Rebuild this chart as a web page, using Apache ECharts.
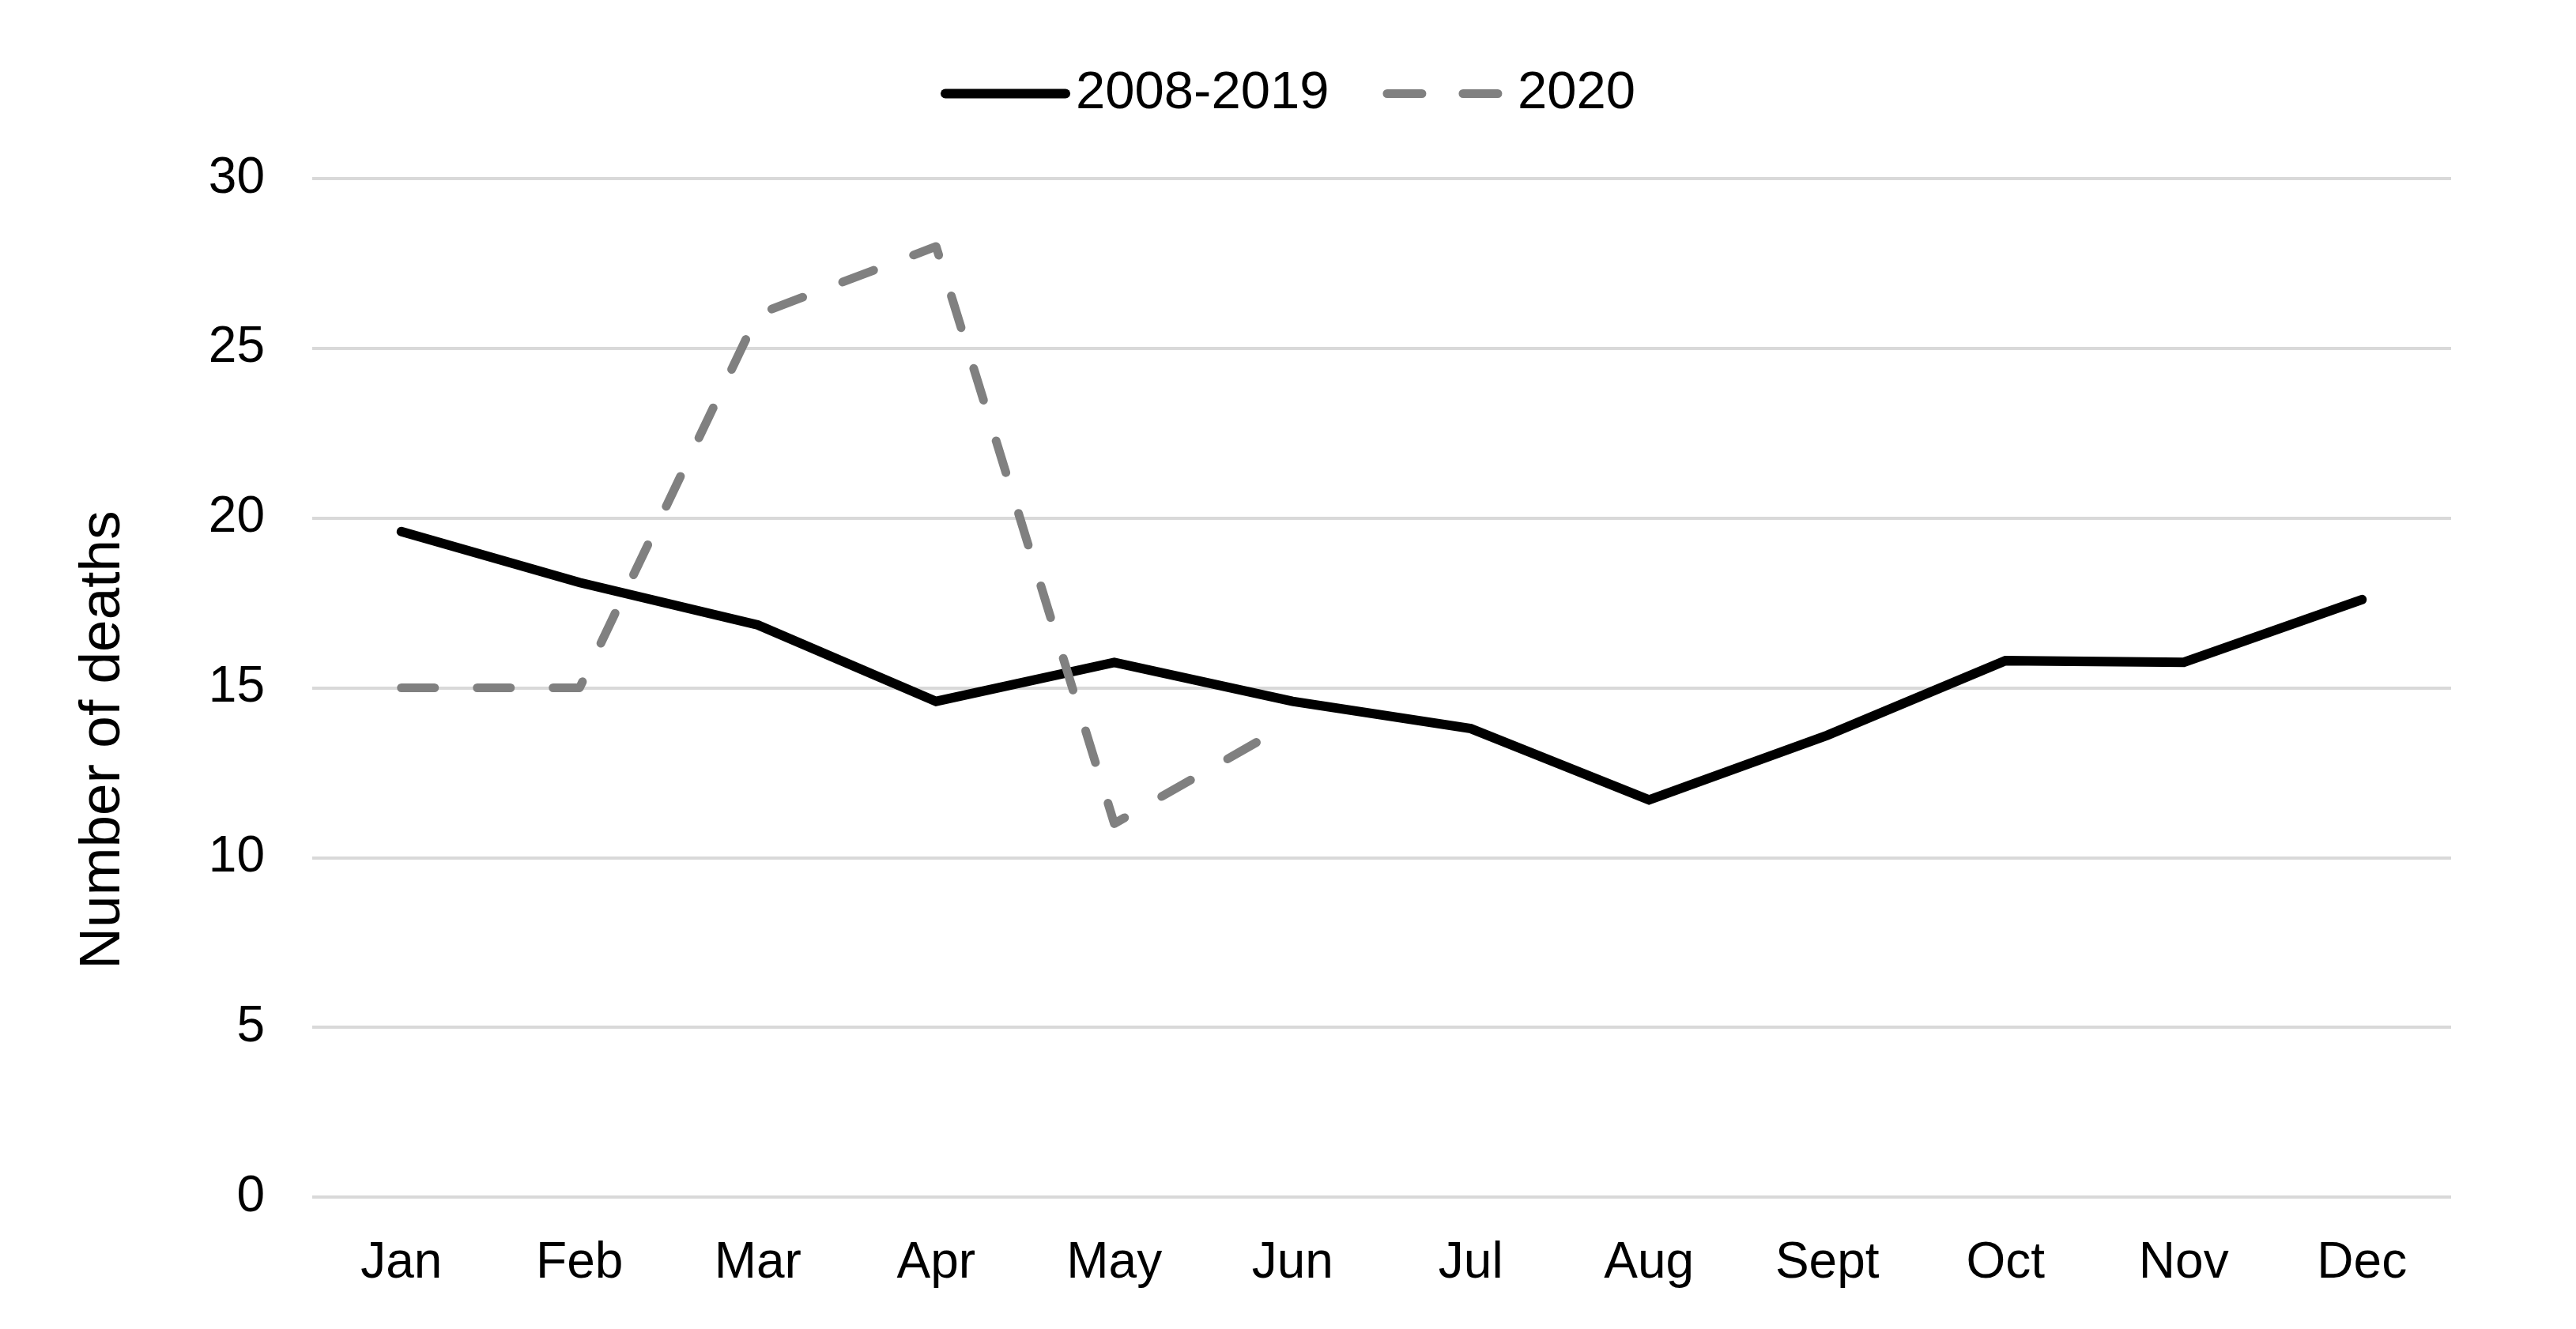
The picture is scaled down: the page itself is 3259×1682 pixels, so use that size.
<!DOCTYPE html>
<html>
<head>
  <meta charset="utf-8">
  <title>Number of deaths by month</title>
  <script src="https://cdn.jsdelivr.net/npm/echarts@6/dist/echarts.min.js"></script>
</head>
<body style="margin:0;background:#fff;">
<div id="main" style="width:3259px;height:1682px;"></div>
<script type="text/javascript">
var months = ['Jan', 'Feb', 'Mar', 'Apr', 'May', 'Jun', 'Jul', 'Aug', 'Sept', 'Oct', 'Nov', 'Dec'];
var avg0819 = [19.6, 18.1, 16.85, 14.6, 15.75, 14.6, 13.8, 11.7, 13.6, 15.8, 15.75, 17.6];
var y2020 = [15, 15, 26, 28, 11, 14];

var font = 'Liberation Sans, Arial, sans-serif';
var myChart = echarts.init(document.getElementById('main'));

// hide the legend dot, keep only the line
var noDot = { color: 'rgba(0,0,0,0)', borderWidth: 0, opacity: 0 };

var option = {
    backgroundColor: '#fff',
    animation: false,
    legend: {
        top: 80,
        left: 'center',
        itemWidth: 152,
        itemHeight: 20,
        itemGap: 68,
        textStyle: { fontFamily: font, fontSize: 67, color: '#000', padding: [0, 0, 0, 8] },
        data: [
            { name: '2008-2019', itemStyle: noDot, lineStyle: { width: 12, cap: 'round' } },
            { name: '2020', itemStyle: noDot, lineStyle: { width: 11, type: [44, 52], cap: 'round' } }
        ]
    },
    grid: { left: 395, right: 158, top: 226, bottom: 167 },
    xAxis: {
        type: 'category',
        data: months,
        axisLine: { show: false },
        axisTick: { show: false },
        axisLabel: { fontFamily: font, fontSize: 64, color: '#000', margin: 52 }
    },
    yAxis: {
        type: 'value',
        min: 0,
        max: 30,
        interval: 5,
        name: 'Number of deaths',
        nameLocation: 'middle',
        nameGap: 228,
        nameTextStyle: { fontFamily: font, fontSize: 73, color: '#000', padding: [0, 132, 0, 0] },
        axisLabel: { fontFamily: font, fontSize: 64, color: '#000', margin: 60 },
        splitLine: { lineStyle: { color: '#d9d9d9', width: 4 } }
    },
    series: [
        {
            name: '2008-2019',
            type: 'line',
            data: avg0819,
            symbol: 'none',
            color: '#000',
            lineStyle: { color: '#000', width: 12, cap: 'round', join: 'miter' }
        },
        {
            name: '2020',
            type: 'line',
            data: y2020,
            symbol: 'none',
            color: '#808080',
            lineStyle: { color: '#808080', width: 11, type: [42, 54], cap: 'round', join: 'round' }
        }
    ]
};

myChart.setOption(option);
</script>
</body>
</html>
